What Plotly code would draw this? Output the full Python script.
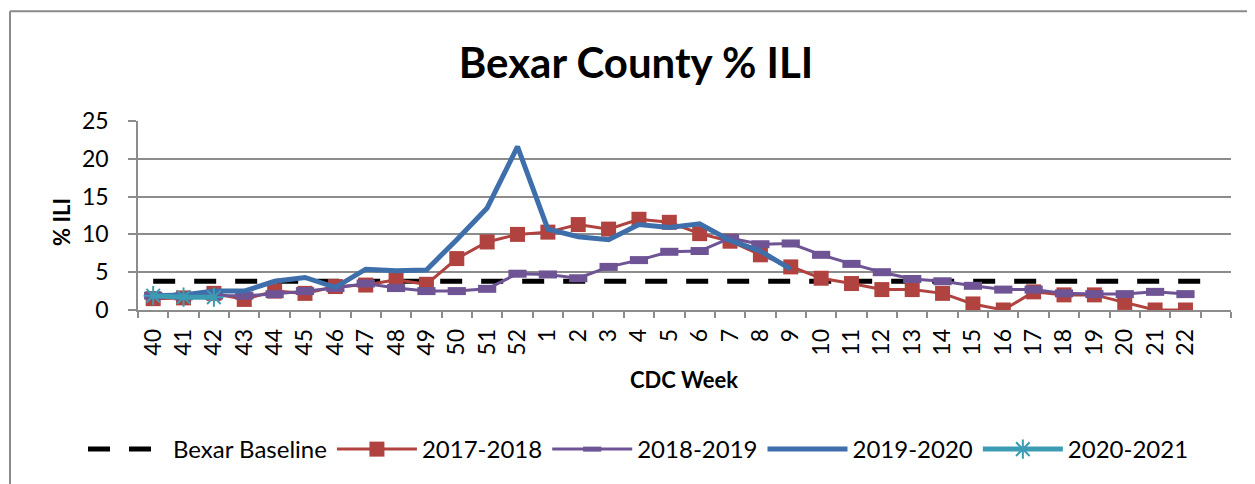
import plotly.graph_objects as go

weeks = ["40","41","42","43","44","45","46","47","48","49","50","51","52",
         "1","2","3","4","5","6","7","8","9","10","11","12","13","14","15",
         "16","17","18","19","20","21","22"]
categories = weeks + [" "]

baseline_value = 3.8
s2017 = [1.5,1.6,2.2,1.4,2.5,2.2,3.1,3.3,4.0,3.4,6.8,9.0,10.0,
         10.3,11.3,10.7,12.0,11.6,10.1,9.1,7.3,5.7,4.2,3.5,2.7,2.7,2.2,0.8,
         0.0,2.4,2.0,2.0,1.0,0.0,0.0]
s2018 = [1.9,1.8,1.9,1.9,2.1,2.5,2.9,3.5,2.9,2.5,2.5,2.8,4.8,
         4.7,4.2,5.7,6.6,7.7,7.8,9.5,8.7,8.8,7.3,6.1,5.0,4.1,3.8,3.2,
         2.7,2.7,2.2,2.1,2.1,2.4,2.1]
s2019 = [1.9,2.0,2.5,2.5,3.8,4.3,3.0,5.4,5.2,5.3,9.3,13.5,21.6,
         10.7,9.7,9.3,11.3,10.9,11.4,9.2,7.8,5.4]
s2020 = [1.9,1.7,1.7]

RED = "#B0423F"
PURPLE = "#6E5494"
BLUE = "#3F6FAA"
CYAN = "#3B9CB3"
GRID = "#8C8C8C"
FONT = "Lato"

fig = go.Figure()
fig.add_trace(go.Scatter(x=categories, y=[baseline_value]*len(categories),
    name="Bexar Baseline", mode="lines",
    line=dict(color="black", width=5, dash="22px,19px")))
fig.add_trace(go.Scatter(x=weeks[:len(s2017)], y=s2017, name="2017-2018",
    mode="lines+markers", line=dict(color=RED, width=3),
    marker=dict(symbol="square", size=15, color=RED)))
fig.add_trace(go.Scatter(x=weeks[:len(s2018)], y=s2018, name="2018-2019",
    mode="lines+markers", line=dict(color=PURPLE, width=3),
    marker=dict(symbol="line-ew", size=13, line=dict(width=8, color=PURPLE))))
fig.add_trace(go.Scatter(x=weeks[:len(s2019)], y=s2019, name="2019-2020",
    mode="lines", line=dict(color=BLUE, width=5)))
fig.add_trace(go.Scatter(x=weeks[:len(s2020)], y=s2020, name="2020-2021",
    mode="lines+markers", line=dict(color=CYAN, width=5),
    marker=dict(symbol="asterisk-open", size=16, line=dict(width=2, color=CYAN))))

OFF = 8  # page body margin
W, H = 1255 - OFF, 484 - OFF
L, R, T, B = 138 - OFF, 1231 - OFF, 121 - OFF, 312 - OFF
pw, ph = R - L, B - T
def px(x):
    return (x - OFF - L) / pw
def py(y):
    return (B - (y - OFF)) / ph

fig.update_layout(
    width=W, height=H,
    margin=dict(l=L, r=W - R, t=T, b=H - B),
    paper_bgcolor="white", plot_bgcolor="white",
    font=dict(family=FONT, color="black", size=20),
    title=dict(text="<b>Bexar County % ILI</b>", x=(636 - OFF) / W, y=1 - (63 - OFF) / H,
               xref="container", yref="container", xanchor="center", yanchor="middle",
               font=dict(size=42, family=FONT, color="black")),
    showlegend=True,
    legend=dict(orientation="h", x=px(83), y=py(453), xanchor="left", yanchor="middle",
                font=dict(size=24, family=FONT), itemwidth=80, traceorder="normal",
                bgcolor="rgba(0,0,0,0)"),
    xaxis=dict(type="category", categoryorder="array", categoryarray=categories,
               range=[-0.5, len(categories) - 0.5], tickangle=-90,
               tickson="boundaries", ticks="outside", ticklen=6, tickcolor=GRID,
               tickwidth=1.5, showline=True, linecolor=GRID, linewidth=1.5,
               showgrid=False, tickfont=dict(size=23, family=FONT),
               ticklabelstandoff=8, fixedrange=True),
    yaxis=dict(range=[0, 25], tickvals=[0, 5, 10, 15, 20, 25], ticks="outside",
               ticklen=8, tickcolor=GRID, tickwidth=1.5, showline=True,
               linecolor=GRID, linewidth=1.5, showgrid=True, gridcolor=GRID,
               gridwidth=1.5, zeroline=False, tickfont=dict(size=23, family=FONT),
               ticklabelstandoff=15, fixedrange=True),
    annotations=[
        dict(text="<b>% ILI</b>", x=px(62), y=py(223), xref="paper", yref="paper",
             textangle=-90, showarrow=False, font=dict(size=22, family=FONT),
             xanchor="center", yanchor="middle"),
        dict(text="<b>CDC Week</b>", x=px(684), y=py(382), xref="paper", yref="paper",
             showarrow=False, font=dict(size=22, family=FONT),
             xanchor="center", yanchor="middle"),
    ],
    shapes=[
        dict(type="line", xref="paper", yref="paper", x0=px(10), x1=px(1250),
             y0=py(10), y1=py(10), line=dict(color="#8A8A8A", width=2), layer="above"),
        dict(type="line", xref="paper", yref="paper", x0=px(10), x1=px(10),
             y0=py(10), y1=py(490), line=dict(color="#8A8A8A", width=2), layer="above"),
        dict(type="line", xref="paper", yref="paper", x0=px(1250), x1=px(1250),
             y0=py(10), y1=py(490), line=dict(color="#8A8A8A", width=2), layer="above"),
    ],
)

fig.write_html("out.html")
